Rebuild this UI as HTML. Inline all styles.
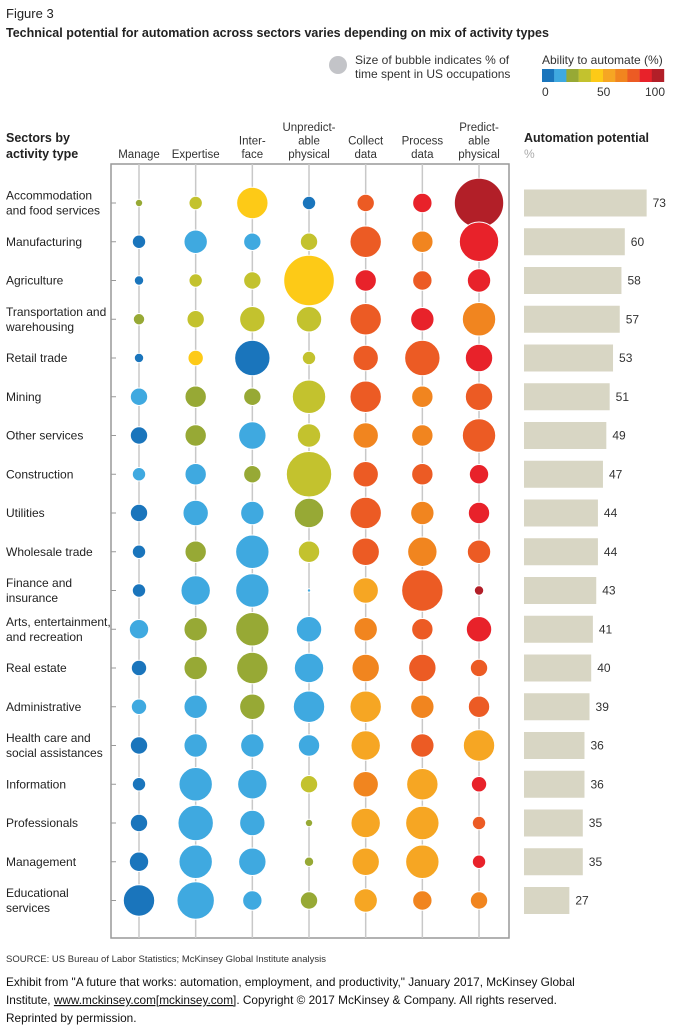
<!DOCTYPE html>
<html><head><meta charset="utf-8"><style>
body{margin:0;background:#fff;width:681px;height:1027px;overflow:hidden;font-family:"Liberation Sans",sans-serif}
svg{display:block}
</style></head><body>
<svg id="chart" width="681" height="1027" xmlns="http://www.w3.org/2000/svg" font-family="Liberation Sans, sans-serif">
<text x="6" y="18" font-size="13" fill="#222">Figure 3</text>
<text x="6" y="37" font-size="12.5" font-weight="bold" fill="#222">Technical potential for automation across sectors varies depending on mix of activity types</text>
<circle cx="338" cy="65" r="9" fill="#c3c4c8"/>
<text font-size="12" fill="#333"><tspan x="355" y="64">Size of bubble indicates % of</tspan><tspan x="355" y="78">time spent in US occupations</tspan></text>
<text x="542" y="64" font-size="12" fill="#333">Ability to automate (%)</text>
<g id="colorLegend"></g>
<text x="542" y="96" font-size="12" fill="#333">0</text>
<text x="597" y="96" font-size="12" fill="#333">50</text>
<text x="645" y="96" font-size="12" fill="#333">100</text>
<text font-size="12.5" font-weight="bold" fill="#222"><tspan x="6" y="142">Sectors by</tspan><tspan x="6" y="158">activity type</tspan></text>
<text x="524" y="142" font-size="12.5" font-weight="bold" fill="#222">Automation potential</text>
<text x="524" y="158" font-size="12" fill="#aaa">%</text>
<g id="colHeads"></g>
<rect x="111" y="164" width="398" height="774" fill="none" stroke="#999" stroke-width="1.5"/>
<g id="plot"></g>
<text x="6" y="962" font-size="9.5" fill="#333">SOURCE:  US Bureau of Labor Statistics; McKinsey Global Institute analysis</text>
<text font-size="11.8" fill="#111"><tspan x="6" y="986">Exhibit from "A future that works: automation, employment, and productivity," January 2017, McKinsey Global</tspan><tspan x="6" y="1004">Institute, <tspan text-decoration="underline">www.mckinsey.com[mckinsey.com]</tspan>. Copyright © 2017 McKinsey &amp; Company. All rights reserved.</tspan><tspan x="6" y="1022">Reprinted by permission.</tspan></text>
</svg>
<script>
const sectors=[["Accommodation","and food services"],["Manufacturing"],["Agriculture"],["Transportation and","warehousing"],["Retail trade"],["Mining"],["Other services"],["Construction"],["Utilities"],["Wholesale trade"],["Finance and","insurance"],["Arts, entertainment,","and recreation"],["Real estate"],["Administrative"],["Health care and","social assistances"],["Information"],["Professionals"],["Management"],["Educational","services"]];
const activities=[["Manage"],["Expertise"],["Inter-","face"],["Unpredict-","able","physical"],["Collect","data"],["Process","data"],["Predict-","able","physical"]];
const potential=[73,60,58,57,53,51,49,47,44,44,43,41,40,39,36,36,35,35,27];
// bubble size (radius-like index of time share), per sector row, per activity
const sizes=[
[3.7,6.7,15.7,6.7,8.7,9.7,24.7],
[6.7,11.7,8.7,8.7,15.7,10.7,19.7],
[4.7,6.7,8.7,25.3,10.7,9.7,11.7],
[5.7,8.7,12.7,12.7,15.7,11.7,16.7],
[4.7,7.7,17.7,6.7,12.7,17.7,13.7],
[8.7,10.7,8.7,16.7,15.7,10.7,13.7],
[8.7,10.7,13.7,11.7,12.7,10.7,16.7],
[6.7,10.7,8.7,22.7,12.7,10.7,9.7],
[8.7,12.7,11.7,14.7,15.7,11.7,10.7],
[6.7,10.7,16.7,10.7,13.7,14.7,11.7],
[6.7,14.7,16.7,1.7,12.7,20.7,4.7],
[9.7,11.7,16.7,12.7,11.7,10.7,12.7],
[7.7,11.7,15.7,14.7,13.7,13.7,8.7],
[7.7,11.7,12.7,15.7,15.7,11.7,10.7],
[8.7,11.7,11.7,10.7,14.7,11.7,15.7],
[6.7,16.7,14.7,8.7,12.7,15.7,7.7],
[8.7,17.7,12.7,3.7,14.7,16.7,6.7],
[9.7,16.7,13.7,4.7,13.7,16.7,6.7],
[15.7,18.7,9.7,8.7,11.7,9.7,8.7]];
// ability to automate (%), binned to legend steps
const ability=[
[25,35,45,5,75,85,95],
[5,15,15,35,75,65,85],
[5,35,35,45,85,75,85],
[25,35,35,35,75,85,65],
[5,45,5,35,75,75,85],
[15,25,25,35,75,65,75],
[5,25,15,35,65,65,75],
[15,15,25,35,75,75,85],
[5,15,15,25,75,65,85],
[5,25,15,35,75,65,75],
[5,15,15,15,55,75,95],
[15,25,25,15,65,75,85],
[5,25,25,15,65,75,75],
[15,15,25,15,55,65,75],
[5,15,15,15,55,75,55],
[5,15,15,35,65,55,85],
[5,15,15,25,55,55,75],
[5,15,15,25,55,55,85],
[5,15,15,25,55,65,65]];
const palette=["#1a75bc","#3fa9e0","#97a935","#c3c22e","#fdca17","#f6a623","#f1851f","#ec5b24","#e8222a","#b21f28"];
const NS="http://www.w3.org/2000/svg";
function mk(t,a,p){const e=document.createElementNS(NS,t);for(const k in a)e.setAttribute(k,a[k]);p.appendChild(e);return e;}
const xCol=i=>139+i*56.67;
const yRow=j=>203+j*38.75;
const rS=v=>v;
const colorOf=v=>palette[Math.min(9,Math.floor(v/10))];
const xBar=v=>524+v*1.68;
const lg=document.getElementById('colorLegend');
palette.forEach((c,i)=>{const r=mk('rect',{x:542+i*12.2,y:69,width:12.4,height:13,fill:c},lg);

});
const ch=document.getElementById('colHeads');
activities.forEach((a,i)=>{const t=mk('text',{'font-size':'11.5',fill:'#333','text-anchor':'middle'},ch);


a.forEach((s,k)=>{const ts=mk('tspan',{x:xCol(i),y:158-(a.length-1-k)*13.5},t);ts.textContent=s;});});
const p=document.getElementById('plot');
activities.forEach((a,i)=>{const l=mk('line',{x1:xCol(i),x2:xCol(i),y1:164,y2:938,stroke:'#c8c8c8','stroke-width':1.5},p);

});
sectors.forEach((s,j)=>{
 const y=yRow(j);
 const tk=mk('line',{x1:111,x2:116,y1:y,y2:y,stroke:'#999'},p);
 
 
 const t=mk('text',{'font-size':'12',fill:'#222'},p);
 
 
 s.forEach((line,k)=>{const ts=mk('tspan',{x:6,y:y+4-(s.length-1)*7.5+k*15},t);ts.textContent=line;});
 sizes[j].forEach((v,i)=>{
  const c=mk('circle',{cx:xCol(i),cy:y,r:rS(v),fill:colorOf(ability[j][i]),stroke:'#fff','stroke-width':1},p);
  
  
 });
 const b=mk('rect',{x:524,y:y-13.5,width:xBar(potential[j])-524,height:27,fill:'#d8d6c4'},p);
 
 
 const bt=mk('text',{x:xBar(potential[j])+6,y:y+4,'font-size':'12',fill:'#333'},p);
 
 
 bt.textContent=potential[j];
});
</script>
</body></html>
